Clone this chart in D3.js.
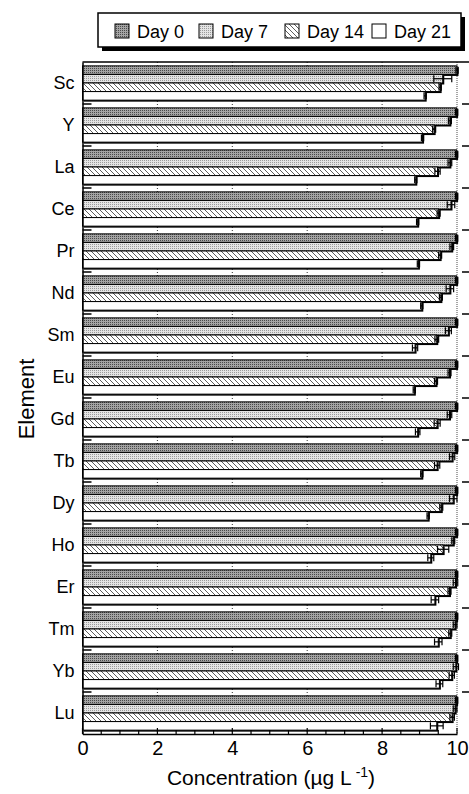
<!DOCTYPE html>
<html lang="en">
<head>
<meta charset="utf-8">
<title>REE concentration by day</title>
<script src="https://cdn.jsdelivr.net/npm/d3@7"></script>
<style>
  body { margin: 0; background: #fff; }
  svg text { font-family: "Liberation Sans", Arial, sans-serif; fill: #000; }
</style>
</head>
<body>
<div id="chart"></div>
<script>
// data (µg/L)
var elements = ["Sc","Y","La","Ce","Pr","Nd","Sm","Eu","Gd","Tb","Dy","Ho","Er","Tm","Yb","Lu"];
var seriesNames = ["Day 0","Day 7","Day 14","Day 21"];
var day0  = [10.0, 9.99, 9.99, 9.99, 9.99, 9.99, 9.99, 9.99, 9.99, 9.99, 9.99, 9.99, 9.99, 9.99, 9.99, 9.99];
var day0Err = [0.03,0.03,0.03,0.03,0.03,0.03,0.03,0.03,0.03,0.03,0.03,0.03,0.03,0.03,0.03,0.03];
var day7  = [9.62, 9.81, 9.81, 9.84, 9.86, 9.81, 9.77, 9.80, 9.80, 9.87, 9.90, 9.90, 9.96, 9.95, 9.97, 9.95];
var day7Err = [0.24,0.04,0.05,0.10,0.05,0.10,0.08,0.04,0.06,0.07,0.10,0.04,0.06,0.05,0.07,0.05];
var day14 = [9.55, 9.39, 9.48, 9.51, 9.55, 9.57, 9.46, 9.44, 9.47, 9.47, 9.58, 9.63, 9.80, 9.82, 9.86, 9.87];
var day14Err = [0.03,0.04,0.07,0.04,0.04,0.04,0.05,0.04,0.08,0.07,0.04,0.15,0.04,0.04,0.07,0.06];
var day21 = [9.15, 9.08, 8.90, 8.95, 8.97, 9.06, 8.88, 8.86, 8.95, 9.06, 9.23, 9.30, 9.41, 9.50, 9.53, 9.46];
var day21Err = [0.03,0.03,0.03,0.03,0.03,0.03,0.07,0.03,0.06,0.03,0.03,0.08,0.10,0.10,0.09,0.17];
var xTicks = [0, 2, 4, 6, 8, 10];

var values = [day0, day7, day14, day21];
var errs = [day0Err, day7Err, day14Err, day21Err];

var w = 469, h = 794;
var padL = 82.5, padR = 457, padT = 62, padB = 734;

var svg = d3.select("#chart").append("svg")
  .attr("width", w).attr("height", h);

// fill patterns
var defs = svg.append("defs");
var p0 = defs.append("pattern").attr("id", "pat0").attr("patternUnits", "userSpaceOnUse")
  .attr("width", 2).attr("height", 2);
p0.append("rect").attr("width", 2).attr("height", 2).attr("fill", "#a4a4a4");
p0.append("rect").attr("width", 1).attr("height", 1).attr("fill", "#4a4a4a");

var p1 = defs.append("pattern").attr("id", "pat1").attr("patternUnits", "userSpaceOnUse")
  .attr("width", 2).attr("height", 2);
p1.append("rect").attr("width", 2).attr("height", 2).attr("fill", "#e4e4e4");
p1.append("rect").attr("width", 1).attr("height", 1).attr("fill", "#9a9a9a");

var p2 = defs.append("pattern").attr("id", "pat2").attr("patternUnits", "userSpaceOnUse")
  .attr("width", 5).attr("height", 5);
p2.append("rect").attr("width", 5).attr("height", 5).attr("fill", "#fff");
p2.append("path").attr("d", "M0,0L5,5M-1,4L1,6M4,-1L6,1")
  .attr("stroke", "#333").attr("stroke-width", 0.8);

var fills = ["url(#pat0)", "url(#pat1)", "url(#pat2)", "#fff"];

// scales
var xScale = d3.scaleLinear().domain([0, 10]).range([padL, padR]);
var yScale = d3.scaleBand().domain(elements).range([padT, padB]).paddingInner(0);
var subScale = d3.scaleBand().domain(seriesNames).range([0, yScale.bandwidth()])
  .paddingInner(0).paddingOuter(0.45);

// gridlines
svg.append("g").selectAll("line")
  .data([2, 4, 6, 8])
  .enter().append("line")
  .attr("x1", function(d){ return xScale(d); })
  .attr("x2", function(d){ return xScale(d); })
  .attr("y1", padT).attr("y2", padB)
  .attr("stroke", "#333").attr("stroke-width", 1).attr("stroke-dasharray", "1,2");

svg.append("line")
  .attr("x1", xScale(10)).attr("x2", xScale(10))
  .attr("y1", padT).attr("y2", padB)
  .attr("stroke", "#888").attr("stroke-width", 1.5).attr("stroke-dasharray", "1,1");

// bars
var rows = [];
elements.forEach(function(el, i){
  seriesNames.forEach(function(s, j){
    rows.push({el: el, s: s, j: j, v: values[j][i], e: errs[j][i]});
  });
});

var barH = subScale.bandwidth();
var gBars = svg.append("g");
// shadows
gBars.selectAll("rect.shadow")
  .data(rows).enter().append("rect")
  .attr("class", "shadow")
  .attr("x", xScale(0) + 1.5)
  .attr("y", function(d){ return yScale(d.el) + subScale(d.s) + 1.5; })
  .attr("width", function(d){ return xScale(d.v) - xScale(0); })
  .attr("height", barH)
  .attr("fill", "#000");

gBars.selectAll("rect.bar")
  .data(rows).enter().append("rect")
  .attr("class", "bar")
  .attr("x", xScale(0))
  .attr("y", function(d){ return yScale(d.el) + subScale(d.s); })
  .attr("width", function(d){ return xScale(d.v) - xScale(0); })
  .attr("height", barH)
  .attr("fill", function(d){ return fills[d.j]; })
  .attr("stroke", "#000").attr("stroke-width", 1);

// error bars
var gErr = svg.append("g").attr("stroke", "#000").attr("stroke-width", 1.2);
rows.forEach(function(d){
  var yc = yScale(d.el) + subScale(d.s) + barH / 2;
  var x1 = xScale(d.v - d.e), x2 = xScale(d.v + d.e);
  gErr.append("line").attr("x1", x1).attr("x2", x2).attr("y1", yc).attr("y2", yc);
  gErr.append("line").attr("x1", x1).attr("x2", x1).attr("y1", yc - 3.5).attr("y2", yc + 3.5);
  gErr.append("line").attr("x1", x2).attr("x2", x2).attr("y1", yc - 3.5).attr("y2", yc + 3.5);
});

// frame
svg.append("line").attr("x1", padL).attr("x2", 472).attr("y1", padT).attr("y2", padT)
  .attr("stroke", "#000").attr("stroke-width", 1.5);
svg.append("line").attr("x1", 470).attr("x2", 470).attr("y1", padT).attr("y2", padB)
  .attr("stroke", "#000").attr("stroke-width", 1.5);

// y axis left
var yAxis = d3.axisLeft(yScale).tickSize(0).tickPadding(8);
var gy = svg.append("g").attr("transform", "translate(" + padL + ",0)").call(yAxis);
gy.select(".domain").attr("stroke", "#000").attr("stroke-width", 1.5);
gy.selectAll("text").attr("font-size", 18).attr("font-family", "Liberation Sans, Arial, sans-serif");

// inward ticks at the group boundaries, both sides
var bounds = elements.slice(1).map(function(el){ return yScale(el); });
svg.append("g").selectAll("line").data(bounds).enter().append("line")
  .attr("x1", padL).attr("x2", padL + 9)
  .attr("y1", function(d){ return d; }).attr("y2", function(d){ return d; })
  .attr("stroke", "#000").attr("stroke-width", 1.5);
svg.append("g").selectAll("line").data(bounds).enter().append("line")
  .attr("x1", 462).attr("x2", 470)
  .attr("y1", function(d){ return d; }).attr("y2", function(d){ return d; })
  .attr("stroke", "#000").attr("stroke-width", 1.5);

// x axis
var xAxis = d3.axisBottom(xScale).tickValues(xTicks).tickSize(0).tickPadding(7)
  .tickFormat(d3.format("d"));
var gx = svg.append("g").attr("transform", "translate(0," + padB + ")").call(xAxis);
gx.select(".domain").attr("stroke", "#000").attr("stroke-width", 1.5);
gx.selectAll("text").attr("font-size", 20).attr("font-family", "Liberation Sans, Arial, sans-serif");

var minor = d3.range(0, 10.01, 0.5);
svg.append("g").selectAll("line").data(minor).enter().append("line")
  .attr("x1", function(d){ return xScale(d); })
  .attr("x2", function(d){ return xScale(d); })
  .attr("y1", padB)
  .attr("y2", function(d){ return d % 2 === 0 ? padB - 6 : padB - 4; })
  .attr("stroke", "#000").attr("stroke-width", 1.2);

// axis titles
var xt = svg.append("text")
  .attr("x", 271).attr("y", 785)
  .attr("text-anchor", "middle").attr("font-size", 21);
xt.append("tspan").text("Concentration (µg L");
xt.append("tspan").attr("dy", -8).attr("font-size", 14).text(" -1");
xt.append("tspan").attr("dy", 8).text(")");

svg.append("text")
  .attr("transform", "translate(34,399) rotate(-90)")
  .attr("text-anchor", "middle").attr("font-size", 22)
  .text("Element");

// legend
var lg = svg.append("g");
lg.append("rect").attr("x", 102).attr("y", 17).attr("width", 363).attr("height", 34).attr("fill", "#000");
lg.append("rect").attr("x", 98).attr("y", 13).attr("width", 363).attr("height", 34)
  .attr("fill", "#fff").attr("stroke", "#000").attr("stroke-width", 1.5);

var legX = [115, 199, 285, 372];
seriesNames.forEach(function(s, j){
  lg.append("rect").attr("x", legX[j]).attr("y", 24).attr("width", 14).attr("height", 14)
    .attr("fill", fills[j]).attr("stroke", "#000").attr("stroke-width", 1);
  lg.append("text").attr("x", legX[j] + 22).attr("y", 37.5)
    .attr("font-size", 18).text(s);
});
</script>
</body>
</html>
